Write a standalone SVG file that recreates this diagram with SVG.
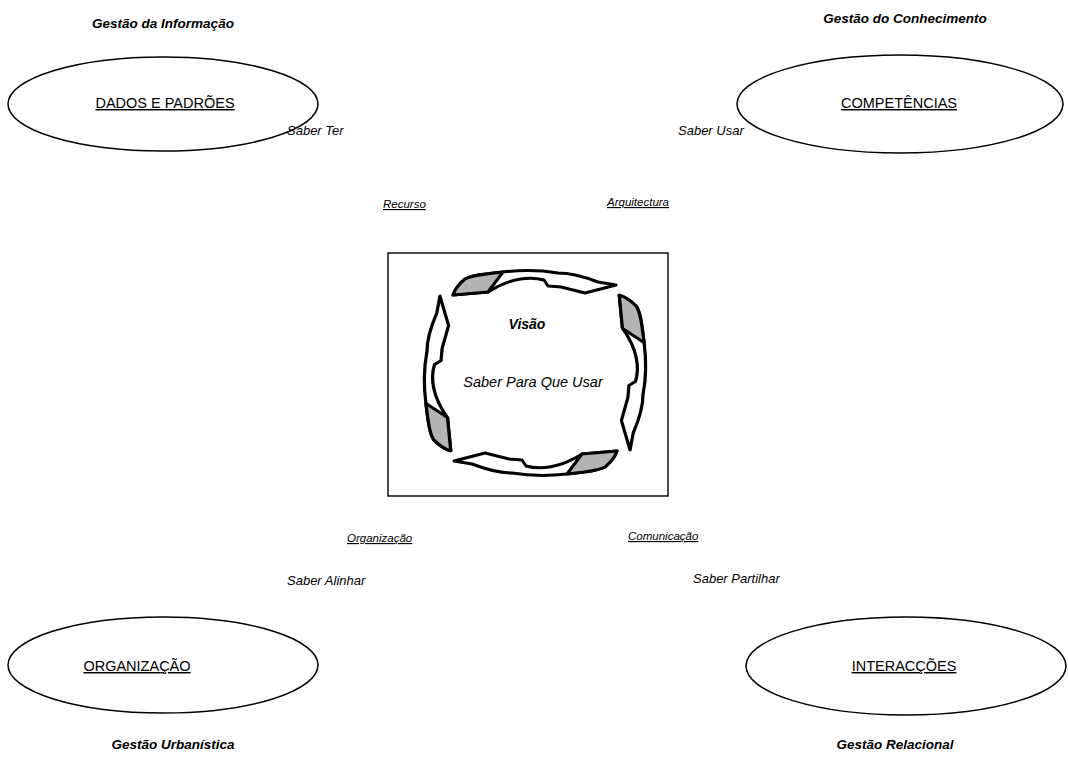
<svg xmlns="http://www.w3.org/2000/svg" width="1068" height="760" viewBox="0 0 1068 760">
  <style>
    text { font-family: "Liberation Sans", Arial, sans-serif; fill: #000; }
    .title { font-size: 13.5px; font-weight: bold; font-style: italic; }
    .node { font-size: 14.5px; text-decoration: underline; }
    .saber { font-size: 13px; font-style: italic; }
    .link { font-size: 11.5px; font-style: italic; text-decoration: underline; }
    .ell { fill: #fff; stroke: #000; stroke-width: 1.5; }
    .arrow-body { fill: #fff; stroke: #000; stroke-width: 3; stroke-linejoin: round; }
    .arrow-tail { fill: #b4b4b4; stroke: #000; stroke-width: 3; stroke-linejoin: round; }
  </style>
  <defs>
    <!-- one curved cycle arrow, drawn for the top position around the origin -->
    <g id="cycle-arrow">
      <path class="arrow-body" d="M -47,-81 C -25,-95 -5,-97 9,-93 L 13,-87 L 26,-86 L 50,-80 L 81,-88 L 63,-91 C 50,-96 35,-100 23,-100 C 5,-103 -15,-103 -32,-101 C -50,-99 -62,-98 -70,-94 C -76,-89 -80,-84 -82,-78 Z"/>
      <path class="arrow-tail" d="M -82,-78 C -80,-84 -76,-89 -70,-94 C -62,-98 -50,-99 -32,-101 L -47,-81 Z"/>
    </g>
  </defs>

  <!-- corner nodes -->
  <g id="node-dados">
    <ellipse class="ell" cx="163" cy="104" rx="155" ry="47"/>
    <text class="node" x="165" y="108" text-anchor="middle">DADOS E PADRÕES</text>
    <text class="title" x="163" y="28" text-anchor="middle">Gestão da Informação</text>
  </g>
  <g id="node-competencias">
    <ellipse class="ell" cx="900" cy="104" rx="163" ry="49"/>
    <text class="node" x="899" y="108" text-anchor="middle">COMPETÊNCIAS</text>
    <text class="title" x="905" y="23" text-anchor="middle">Gestão do Conhecimento</text>
  </g>
  <g id="node-organizacao">
    <ellipse class="ell" cx="163" cy="665" rx="155" ry="48"/>
    <text class="node" x="137" y="671" text-anchor="middle">ORGANIZAÇÃO</text>
    <text class="title" x="173" y="749" text-anchor="middle">Gestão Urbanística</text>
  </g>
  <g id="node-interaccoes">
    <ellipse class="ell" cx="906" cy="666" rx="160" ry="49"/>
    <text class="node" x="904" y="671" text-anchor="middle">INTERACÇÕES</text>
    <text class="title" x="895" y="749" text-anchor="middle">Gestão Relacional</text>
  </g>

  <!-- central vision box -->
  <g id="node-visao">
    <rect x="388" y="253" width="280" height="243" fill="#fff" stroke="#000" stroke-width="1.4"/>
    <text x="527" y="329" text-anchor="middle" style="font-size:14px;font-weight:bold;font-style:italic">Visão</text>
    <text x="533" y="387" text-anchor="middle" style="font-size:14.5px;font-style:italic">Saber Para Que Usar</text>
  </g>

  <!-- cycle arrows around the vision -->
  <g id="connectors">
    <use href="#cycle-arrow" transform="translate(535,373)"/>
    <use href="#cycle-arrow" transform="translate(535,373) scale(1.08,0.95) rotate(90)"/>
    <use href="#cycle-arrow" transform="translate(535,373) rotate(180)"/>
    <use href="#cycle-arrow" transform="translate(535,373) scale(1.08,0.95) rotate(270)"/>
  </g>

  <!-- labels between nodes -->
  <g id="labels">
    <text class="saber" x="287" y="135">Saber Ter</text>
    <text class="saber" x="678" y="135">Saber Usar</text>
    <text class="link" x="383" y="208">Recurso</text>
    <text class="link" x="607" y="206">Arquitectura</text>
    <text class="link" x="347" y="542">Organização</text>
    <text class="link" x="628" y="540">Comunicação</text>
    <text class="saber" x="287" y="585">Saber Alinhar</text>
    <text class="saber" x="693" y="583">Saber Partilhar</text>
  </g>
</svg>
